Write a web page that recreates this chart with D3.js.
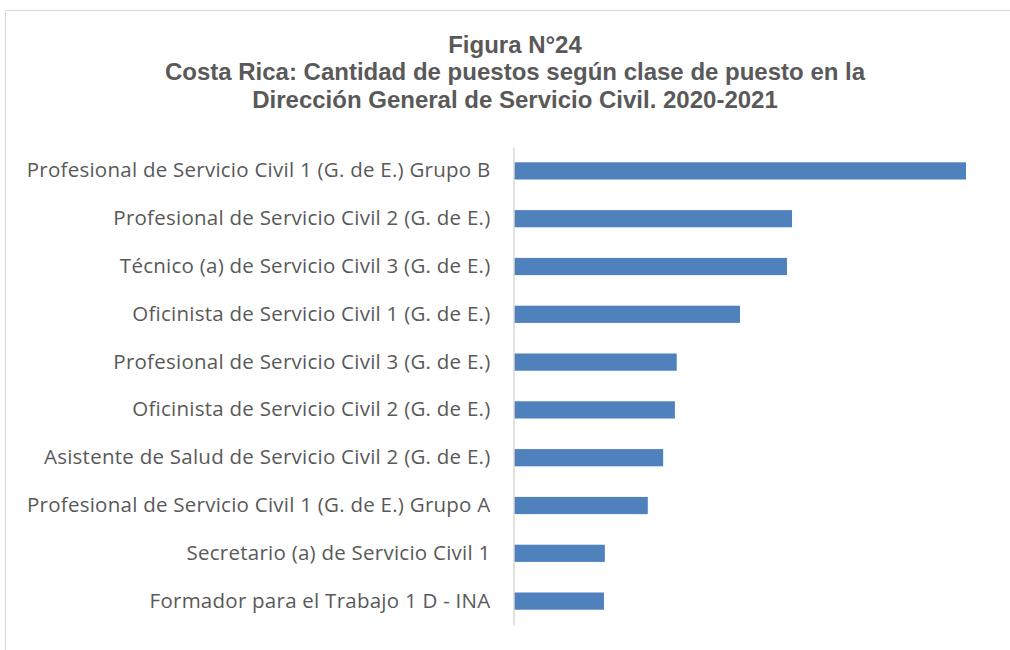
<!DOCTYPE html>
<html>
<head>
	<meta charset="utf-8">
	<title>Figura 24</title>
	<style>
		body { margin: 0; background: #fff; }
	</style>
</head>
<body>
<div id="chart"></div>
<script src="https://d3js.org/d3.v7.min.js"></script>
<script>

	//categories, top to bottom
	var categories = [
		'Profesional de Servicio Civil 1 (G. de E.) Grupo B',
		'Profesional de Servicio Civil 2 (G. de E.)',
		'Técnico (a) de Servicio Civil 3 (G. de E.)',
		'Oficinista de Servicio Civil 1 (G. de E.)',
		'Profesional de Servicio Civil 3 (G. de E.)',
		'Oficinista de Servicio Civil 2 (G. de E.)',
		'Asistente de Salud de Servicio Civil 2 (G. de E.)',
		'Profesional de Servicio Civil 1 (G. de E.) Grupo A',
		'Secretario (a) de Servicio Civil 1',
		'Formador para el Trabajo 1 D - INA'
	];

	//estimated counts (no value axis in the original)
	var values = [100, 61.5, 60.4, 50, 36, 35.6, 33, 29.6, 20.1, 19.9];

	var titleLines = [
		'Figura N°24',
		'Costa Rica: Cantidad de puestos según clase de puesto en la',
		'Dirección General de Servicio Civil. 2020-2021'
	];

	var width = 1010, height = 650;

	var svg = d3.select('#chart').append('svg')
		.attr('width', width)
		.attr('height', height);

	//chart frame (only top and left edges show)
	svg.append('path')
		.attr('d', 'M5.5,' + height + 'V10.5H' + width)
		.attr('fill', 'none')
		.attr('stroke', '#d9d9d9')
		.attr('stroke-width', 1);

	//title
	svg.append('g').selectAll('text')
		.data(titleLines)
		.enter().append('text')
		.attr('x', 515)
		.attr('y', function(d, i) { return 52.5 + i * 27.8; })
		.attr('text-anchor', 'middle')
		.attr('font-family', 'Liberation Sans, Arial, sans-serif')
		.attr('font-weight', 'bold')
		.attr('font-size', 24)
		.attr('fill', '#595959')
		.text(function(d) { return d; });

	var x = d3.scaleLinear()
		.domain([0, d3.max(values)])
		.range([514, 966]);

	var y = d3.scaleBand()
		.domain(categories)
		.range([147, 625])
		.paddingInner(0.64)
		.paddingOuter(0.32);

	//bars
	svg.append('g').selectAll('rect')
		.data(values)
		.enter().append('rect')
		.attr('x', x(0))
		.attr('y', function(d, i) { return y(categories[i]); })
		.attr('width', function(d) { return x(d) - x(0); })
		.attr('height', y.bandwidth())
		.attr('fill', '#4f81bd');

	//category axis
	var yAxis = svg.append('g')
		.attr('transform', 'translate(' + (x(0) - 0.5) + ',0)')
		.call(d3.axisLeft(y).tickSize(0).tickPadding(23));

	yAxis.select('.domain').attr('stroke', '#d9d9d9').attr('stroke-width', 1.5);
	yAxis.selectAll('text')
		.attr('font-family', 'Open Sans, sans-serif')
		.attr('font-size', 20.5)
		.attr('letter-spacing', 0.25)
		.attr('fill', '#595959');

</script>
</body>
</html>
